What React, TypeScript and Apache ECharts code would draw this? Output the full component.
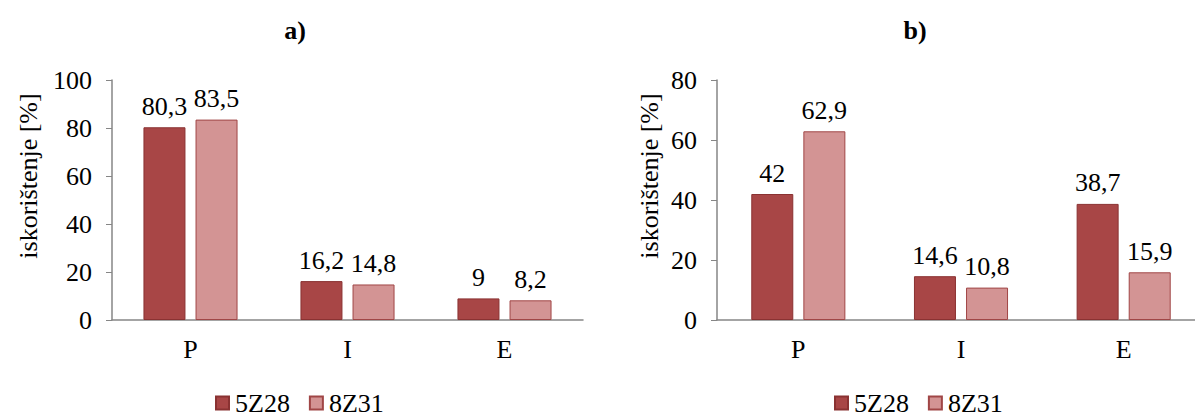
import React, { useEffect, useRef } from "react";
import * as echarts from "echarts";

const categories = ["P", "I", "E"];
const seriesNames = ["5Z28", "8Z31"];
const aValues5Z28 = [80.3, 16.2, 9];
const aValues8Z31 = [83.5, 14.8, 8.2];
const bValues5Z28 = [42, 14.6, 38.7];
const bValues8Z31 = [62.9, 10.8, 15.9];
const yAxisName = "iskorištenje [%]";

const FONT = "Liberation Serif";
const FS = 26;
const C1 = "#A84646";
const C1B = "#8A3232";
const C2 = "#D39494";
const C2B = "#A04646";

export default function App() {
  const ref = useRef<HTMLDivElement>(null);
  useEffect(() => {
    if (!ref.current) return;
    const chart = echarts.init(ref.current, undefined, { renderer: "svg" });
    const lbl = {
      show: true,
      position: "top",
      distance: 8,
      color: "#000",
      fontFamily: FONT,
      fontSize: FS,
      formatter: (p: any) => String(p.value).replace(".", ","),
    };
    const mkSeries = (name: string, data: number[], idx: number, color: string, border: string) => ({
      type: "bar",
      name,
      data,
      xAxisIndex: idx,
      yAxisIndex: idx,
      barWidth: 42,
      barGap: "24%",
      itemStyle: { color, borderColor: border, borderWidth: 1 },
      label: lbl,
    });
    const xAxis = (idx: number) => ({
      type: "category",
      gridIndex: idx,
      data: categories,
      axisLine: { lineStyle: { color: "#868686", width: 1.5 } },
      axisTick: { show: false },
      axisLabel: { color: "#000", fontFamily: FONT, fontSize: FS, margin: 16 },
    });
    const yAxis = (idx: number, max: number) => ({
      type: "value",
      gridIndex: idx,
      min: 0,
      max,
      interval: 20,
      axisLine: { show: true, lineStyle: { color: "#868686", width: 1.5 } },
      axisTick: { show: true, length: 6, lineStyle: { color: "#868686" } },
      splitLine: { show: false },
      axisLabel: { color: "#000", fontFamily: FONT, fontSize: FS, margin: 20 },
    });
    const legend = (left: number) => ({
      left,
      top: 390,
      padding: 0,
      itemWidth: 13,
      itemHeight: 13,
      itemGap: 19,
      icon: "rect",
      textStyle: { color: "#000", fontFamily: FONT, fontSize: FS, padding: [0, 0, 0, 1] },
      data: seriesNames,
    });
    const yName = (x: number) => ({
      type: "text",
      x,
      y: 176,
      rotation: Math.PI / 2,
      style: {
        text: yAxisName,
        fill: "#000",
        fontFamily: FONT,
        fontSize: FS,
        align: "center",
        verticalAlign: "middle",
      },
    });
    chart.setOption({
      animation: false,
      textStyle: { fontFamily: FONT },
      title: [
        { text: "a)", left: 295, top: 17, padding: 0, textAlign: "center", textStyle: { fontFamily: FONT, fontSize: FS, fontWeight: "bold", color: "#000" } },
        { text: "b)", left: 915, top: 17, padding: 0, textAlign: "center", textStyle: { fontFamily: FONT, fontSize: FS, fontWeight: "bold", color: "#000" } },
      ],
      legend: [legend(215), legend(834)],
      grid: [
        { left: 112, top: 80, width: 471, height: 240 },
        { left: 717, top: 80, width: 488, height: 240 },
      ],
      xAxis: [xAxis(0), xAxis(1)],
      yAxis: [yAxis(0, 100), yAxis(1, 80)],
      graphic: [yName(28), yName(649)],
      series: [
        mkSeries(seriesNames[0], aValues5Z28, 0, C1, C1B),
        mkSeries(seriesNames[1], aValues8Z31, 0, C2, C2B),
        mkSeries(seriesNames[0], bValues5Z28, 1, C1, C1B),
        mkSeries(seriesNames[1], bValues8Z31, 1, C2, C2B),
      ],
    });
    return () => chart.dispose();
  }, []);
  return (
    <div style={{ position: "absolute", left: 0, top: 0, width: 1195, height: 416, overflow: "hidden", background: "#fff" }}>
      <div ref={ref} style={{ width: 1220, height: 416 }} />
    </div>
  );
}
